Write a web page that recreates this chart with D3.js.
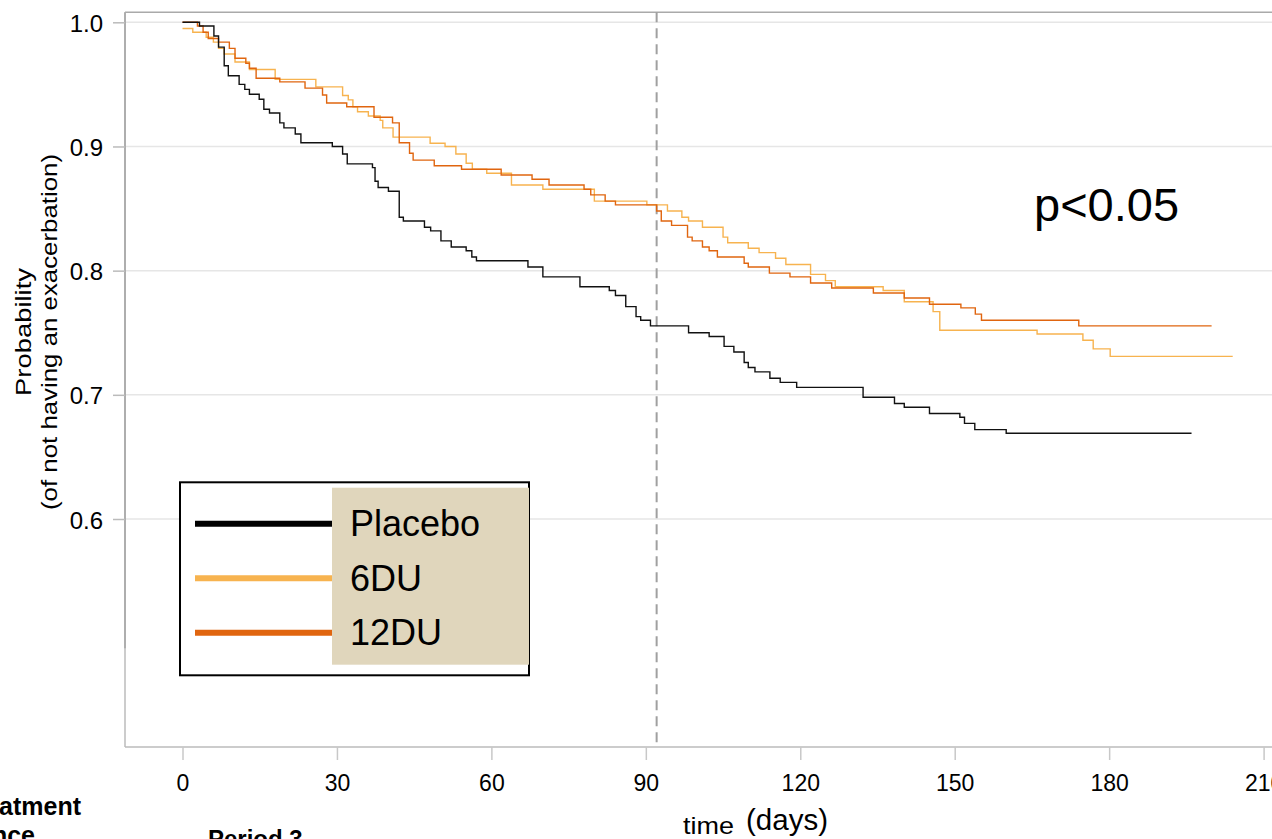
<!DOCTYPE html>
<html>
<head>
<meta charset="utf-8">
<script src="https://cdn.jsdelivr.net/npm/d3@7"></script>
<style>
  body { margin: 0; background: #fff; }
  text { font-family: "Liberation Sans", Arial, sans-serif; fill: #000; }
</style>
</head>
<body>
<div id="chart"></div>
<script>
const width = 1272
const height = 839

// Kaplan-Meier step data (days, survival probability)
const placeboDays = [0, 3.3, 6.1, 7.0, 8.1, 8.9, 11.0, 12.1, 13.0, 14.9, 15.8, 16.9, 18.9, 19.7, 21.9, 23.0, 29.1, 31.1, 32.0, 36.9, 37.4, 38.0, 40.0, 42.1, 42.9, 47.0, 48.2, 50.2, 52.2, 55.1, 56.2, 57.1, 67.1, 70.0, 77.2, 82.9, 84.1, 86.1, 88.1, 89.0, 90.9, 98.3, 102.3, 105.2, 107.1, 109.1, 109.9, 111.2, 114.1, 116.1, 119.3, 132.2, 138.3, 140.2, 145.1, 151.0, 151.9, 153.9, 160.0, 196.0]
const placeboSurv = [1.0, .997, .989, .980, .965, .957, .950, .946, .942, .938, .930, .927, .919, .915, .910, .903, .900, .894, .886, .883, .872, .867, .864, .843, .840, .835, .832, .824, .819, .816, .811, .808, .803, .795, .787, .784, .780, .771, .763, .760, .7555, .750, .747, .739, .7345, .726, .722, .7185, .7134, .710, .706, .698, .693, .690, .685, .682, .677, .672, .669, .669]

const du6Days = [0, 2.0, 4.6, 6.0, 7.0, 8.1, 10.2, 13.0, 18.0, 25.9, 31.1, 32.2, 33.1, 34.0, 36.1, 38.4, 38.9, 40.9, 48.1, 51.0, 53.1, 55.1, 56.3, 59.1, 63.9, 70.0, 80.0, 90.2, 94.2, 97.0, 98.3, 101.0, 105.0, 105.9, 109.9, 112.0, 115.2, 117.2, 122.0, 124.9, 126.8, 136.1, 140.2, 145.8, 147.1, 166.0, 174.9, 176.9, 180.2, 204.0]
const du6Surv = [.995, .992, .988, .984, .979, .9745, .968, .962, .954, .948, .941, .9375, .932, .928, .9245, .921, .915, .9075, .9026, .900, .894, .8865, .8817, .8784, .869, .8655, .856, .853, .848, .843, .840, .835, .827, .8225, .818, .8145, .810, .805, .797, .792, .787, .784, .775, .767, .752, .749, .744, .737, .731, .731]

const du12Days = [0, 2.9, 4.0, 5.0, 7.0, 9.1, 10.2, 12.3, 13.0, 14.3, 18.9, 23.8, 27.2, 28.0, 31.9, 37.2, 40.8, 42.1, 44.1, 44.8, 48.9, 54.2, 61.9, 67.9, 71.2, 78.0, 79.3, 82.1, 84.1, 92.1, 93.0, 95.0, 98.1, 99.0, 101.0, 102.3, 103.9, 109.1, 109.9, 114.0, 118.0, 122.0, 126.1, 134.2, 140.2, 145.1, 151.2, 154.0, 155.2, 174.1, 199.9]
const du12Surv = [1.0, .997, .992, .987, .984, .979, .971, .967, .963, .955, .952, .947, .9415, .935, .932, .9235, .919, .903, .8945, .889, .8845, .8817, .877, .8736, .869, .8655, .861, .856, .853, .848, .840, .8365, .827, .824, .819, .816, .811, .806, .803, .798, .795, .790, .786, .782, .778, .773, .770, .765, .760, .7555, .7555]

const seriesNames = ["Placebo", "6DU", "12DU"]
const seriesColors = ["#111111", "#f7b34f", "#e0650f"]
const xTicks = [0, 30, 60, 90, 120, 150, 180, 210]
const yTicks = [0.6, 0.7, 0.8, 0.9, 1.0]
const cutDay = 92.1
const pText = "p<0.05"

const svg = d3.select("#chart").append("svg").attr("width", width).attr("height", height)

const x = d3.scaleLinear().domain([0, 210]).range([182.5, 1263.6])
const y = d3.scaleLinear().domain([0.6, 1.0]).range([519, 22.3])

const plotLeft = 125, plotTop = 12.3, plotBottom = 747

// grid
svg.append("g").selectAll("line").data(yTicks).join("line")
    .attr("x1", plotLeft).attr("x2", width)
    .attr("y1", d => y(d)).attr("y2", d => y(d))
    .attr("stroke", "#e6e6e6").attr("stroke-width", 1.5)

// frame
svg.append("line").attr("x1", plotLeft).attr("x2", width).attr("y1", plotTop).attr("y2", plotTop)
    .attr("stroke", "#aaa").attr("stroke-width", 1.5)
svg.append("line").attr("x1", plotLeft).attr("x2", width).attr("y1", plotBottom).attr("y2", plotBottom)
    .attr("stroke", "#bbb").attr("stroke-width", 1.5)
svg.append("line").attr("x1", plotLeft).attr("x2", plotLeft).attr("y1", plotTop).attr("y2", plotBottom)
    .attr("stroke", "#bbb").attr("stroke-width", 1.5)
svg.append("line").attr("x1", plotLeft).attr("x2", plotLeft).attr("y1", plotTop).attr("y2", y(0.496))
    .attr("stroke", "#a5a5a5").attr("stroke-width", 1.5)

// axes
const yAxis = d3.axisLeft(y).tickValues(yTicks).tickFormat(d3.format(".1f")).tickSize(12).tickPadding(10)
const yAxisGroup = svg.append("g").attr("transform", `translate(${plotLeft},0)`).call(yAxis)
yAxisGroup.select(".domain").remove()
yAxisGroup.selectAll("line").attr("stroke", "#bbb").attr("stroke-width", 1.5)
yAxisGroup.selectAll("text").attr("font-size", 24).attr("dy", "0.38em")
    .style("font-family", "Liberation Sans, Arial, sans-serif").attr("fill", "#000")

const xAxis = d3.axisBottom(x).tickValues(xTicks).tickSize(13).tickPadding(15)
const xAxisGroup = svg.append("g").attr("transform", `translate(0,${plotBottom})`).call(xAxis)
xAxisGroup.select(".domain").remove()
xAxisGroup.selectAll("line").attr("stroke", "#c8c8c8").attr("stroke-width", 1.5)
xAxisGroup.selectAll("text").attr("font-size", 23)
    .style("font-family", "Liberation Sans, Arial, sans-serif").attr("fill", "#000")

// dashed cut line
svg.append("line")
    .attr("x1", x(cutDay)).attr("x2", x(cutDay))
    .attr("y1", plotTop).attr("y2", plotBottom)
    .attr("stroke", "#a0a0a0").attr("stroke-width", 2)
    .attr("stroke-dasharray", "10,6")

// curves
const line = d3.line().x(d => x(d[0])).y(d => y(d[1])).curve(d3.curveStepAfter)
const curves = [
    [du6Days, du6Surv, seriesColors[1]],
    [du12Days, du12Surv, seriesColors[2]],
    [placeboDays, placeboSurv, seriesColors[0]]
]
curves.forEach(c => {
    svg.append("path")
        .datum(d3.zip(c[0], c[1]))
        .attr("d", line)
        .attr("fill", "none")
        .attr("stroke", c[2])
        .attr("stroke-width", 1.4)
})

// p-value
svg.append("text").attr("x", 1034).attr("y", 221).attr("font-size", 47).text(pText)

// legend
const legend = svg.append("g")
legend.append("rect").attr("x", 180).attr("y", 482.3).attr("width", 349).attr("height", 193)
    .attr("fill", "#fff").attr("stroke", "#000").attr("stroke-width", 2)
legend.append("rect").attr("x", 332).attr("y", 487.7).attr("width", 197).attr("height", 177)
    .attr("fill", "#e0d6bc")
const legY = d3.scalePoint().domain(seriesNames).range([523.7, 632.7])
legend.selectAll(".key").data(seriesNames).join("line")
    .attr("x1", 195).attr("x2", 332)
    .attr("y1", d => legY(d)).attr("y2", d => legY(d))
    .attr("stroke", (d, i) => i === 0 ? "#000" : seriesColors[i])
    .attr("stroke-width", 6)
legend.selectAll(".lab").data(seriesNames).join("text")
    .attr("x", 350).attr("y", d => legY(d) + 12.5)
    .attr("font-size", 36).text(d => d)

// y axis title
const yTitle = svg.append("g").attr("transform", "translate(0,332) rotate(-90)")
yTitle.append("text").attr("x", 0).attr("y", 31).attr("text-anchor", "middle")
    .attr("font-size", 22).attr("textLength", 128).attr("lengthAdjust", "spacingAndGlyphs")
    .text("Probability")
yTitle.append("text").attr("x", 0).attr("y", 57).attr("text-anchor", "middle")
    .attr("font-size", 22).attr("textLength", 356).attr("lengthAdjust", "spacingAndGlyphs")
    .text("(of not having an exacerbation)")

// x axis title
svg.append("text").attr("x", 683).attr("y", 834).attr("font-size", 24)
    .attr("textLength", 51).attr("lengthAdjust", "spacingAndGlyphs").text("time")
svg.append("text").attr("x", 746).attr("y", 830).attr("font-size", 29)
    .attr("textLength", 82).attr("lengthAdjust", "spacingAndGlyphs").text("(days)")

// fragments of neighbouring panel
svg.append("text").attr("x", 81).attr("y", 815).attr("text-anchor", "end")
    .attr("font-size", 25).attr("font-weight", "bold").text("Treatment")
svg.append("text").attr("x", 35).attr("y", 844).attr("text-anchor", "end")
    .attr("font-size", 25).attr("font-weight", "bold").text("Sequence")
svg.append("text").attr("x", 208).attr("y", 847)
    .attr("font-size", 24).attr("font-weight", "bold").text("Period 3")
</script>
</body>
</html>
